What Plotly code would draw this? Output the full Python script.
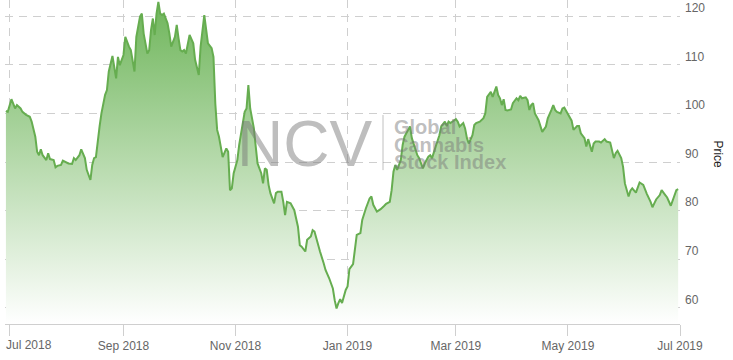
import plotly.graph_objects as go

# Global Cannabis Stock Index (NCV) - price
dates = [
    "2018-06-29", "2018-06-30", "2018-07-02", "2018-07-04", "2018-07-05", "2018-07-07", "2018-07-08",
    "2018-07-10", "2018-07-12", "2018-07-13", "2018-07-15", "2018-07-16", "2018-07-17", "2018-07-18",
    "2018-07-19", "2018-07-21", "2018-07-22", "2018-07-23", "2018-07-25", "2018-07-26", "2018-07-27",
    "2018-07-29", "2018-07-30", "2018-08-01", "2018-08-02", "2018-08-04", "2018-08-05", "2018-08-06",
    "2018-08-08", "2018-08-09", "2018-08-11", "2018-08-12", "2018-08-14", "2018-08-15", "2018-08-16",
    "2018-08-17", "2018-08-18", "2018-08-19", "2018-08-20", "2018-08-22", "2018-08-23", "2018-08-24",
    "2018-08-26", "2018-08-28", "2018-08-29", "2018-08-30", "2018-09-01", "2018-09-02", "2018-09-04",
    "2018-09-05", "2018-09-07", "2018-09-08", "2018-09-10", "2018-09-11", "2018-09-12", "2018-09-14",
    "2018-09-15", "2018-09-16", "2018-09-17", "2018-09-18", "2018-09-19", "2018-09-20", "2018-09-21",
    "2018-09-22", "2018-09-23", "2018-09-25", "2018-09-26", "2018-09-27", "2018-09-29", "2018-09-30",
    "2018-10-01", "2018-10-02", "2018-10-03", "2018-10-04", "2018-10-05", "2018-10-06", "2018-10-07",
    "2018-10-09", "2018-10-10", "2018-10-12", "2018-10-13", "2018-10-15", "2018-10-16", "2018-10-17",
    "2018-10-19", "2018-10-20", "2018-10-21", "2018-10-22", "2018-10-23", "2018-10-25", "2018-10-27",
    "2018-10-28", "2018-10-29", "2018-10-30", "2018-10-31", "2018-11-02", "2018-11-03", "2018-11-05",
    "2018-11-06", "2018-11-07", "2018-11-08", "2018-11-09", "2018-11-11", "2018-11-12", "2018-11-13",
    "2018-11-15", "2018-11-16", "2018-11-17", "2018-11-18", "2018-11-19", "2018-11-20", "2018-11-22",
    "2018-11-23", "2018-11-24", "2018-11-26", "2018-11-27", "2018-11-28", "2018-11-29", "2018-12-01",
    "2018-12-03", "2018-12-05", "2018-12-06", "2018-12-07", "2018-12-09", "2018-12-10", "2018-12-12",
    "2018-12-13", "2018-12-14", "2018-12-16", "2018-12-17", "2018-12-19", "2018-12-20", "2018-12-22",
    "2018-12-24", "2018-12-25", "2018-12-26", "2018-12-27", "2018-12-28", "2018-12-29", "2018-12-31",
    "2019-01-01", "2019-01-02", "2019-01-04", "2019-01-05", "2019-01-06", "2019-01-08", "2019-01-09",
    "2019-01-11", "2019-01-13", "2019-01-14", "2019-01-15", "2019-01-17", "2019-01-19", "2019-01-21",
    "2019-01-22", "2019-01-24", "2019-01-25", "2019-01-26", "2019-01-27", "2019-01-28", "2019-01-30",
    "2019-01-31", "2019-02-01", "2019-02-03", "2019-02-04", "2019-02-05", "2019-02-07", "2019-02-08",
    "2019-02-09", "2019-02-11", "2019-02-12", "2019-02-14", "2019-02-15", "2019-02-16", "2019-02-18",
    "2019-02-20", "2019-02-21", "2019-02-23", "2019-02-24", "2019-02-25", "2019-02-26", "2019-02-28",
    "2019-03-01", "2019-03-02", "2019-03-03", "2019-03-05", "2019-03-06", "2019-03-07", "2019-03-08",
    "2019-03-10", "2019-03-11", "2019-03-12", "2019-03-14", "2019-03-16", "2019-03-17", "2019-03-18",
    "2019-03-20", "2019-03-21", "2019-03-22", "2019-03-23", "2019-03-24", "2019-03-25", "2019-03-26",
    "2019-03-27", "2019-03-28", "2019-03-29", "2019-03-31", "2019-04-01", "2019-04-03", "2019-04-04",
    "2019-04-05", "2019-04-06", "2019-04-08", "2019-04-09", "2019-04-10", "2019-04-11", "2019-04-12",
    "2019-04-13", "2019-04-15", "2019-04-16", "2019-04-17", "2019-04-19", "2019-04-20", "2019-04-22",
    "2019-04-23", "2019-04-24", "2019-04-25", "2019-04-27", "2019-04-28", "2019-04-29", "2019-04-30",
    "2019-05-02", "2019-05-03", "2019-05-04", "2019-05-06", "2019-05-07", "2019-05-08", "2019-05-10",
    "2019-05-11", "2019-05-12", "2019-05-14", "2019-05-15", "2019-05-16", "2019-05-18", "2019-05-19",
    "2019-05-21", "2019-05-22", "2019-05-24", "2019-05-26", "2019-05-27", "2019-05-28", "2019-05-30",
    "2019-05-31", "2019-06-01", "2019-06-03", "2019-06-04", "2019-06-05", "2019-06-07", "2019-06-08",
    "2019-06-09", "2019-06-11", "2019-06-12", "2019-06-13", "2019-06-15", "2019-06-16", "2019-06-17",
    "2019-06-18", "2019-06-20", "2019-06-21", "2019-06-23", "2019-06-24", "2019-06-26", "2019-06-27",
    "2019-06-28", "2019-06-29", "2019-06-30",
]
prices = [
    100.5, 100.3, 102.9, 101.0, 101.7, 101.0, 100.3,
    99.7, 99.3, 98.3, 95.2, 92.1, 91.4, 92.6,
    91.4, 90.4, 91.8, 90.6, 90.4, 88.9, 89.2,
    89.4, 90.3, 90.0, 89.7, 89.6, 90.8, 90.4,
    91.4, 92.6, 90.8, 88.4, 86.3, 89.4, 90.8,
    91.0, 94.5, 97.3, 100.0, 103.8, 104.8, 108.6,
    111.8, 107.2, 111.6, 109.9, 112.0, 115.7, 113.7,
    113.0, 108.6, 115.7, 119.9, 120.5, 116.4, 112.3,
    113.0, 117.1, 119.5, 116.1, 120.5, 122.9, 120.5,
    120.2, 120.5, 118.5, 116.4, 113.7, 115.7, 118.2,
    115.4, 113.0, 112.7, 113.0, 112.3, 114.4, 116.1,
    114.4, 111.0, 107.9, 113.7, 120.2, 117.1, 114.4,
    113.4, 111.6, 102.0, 96.6, 95.2, 91.0, 92.8,
    92.1, 84.2, 84.6, 87.7, 90.4, 93.5, 97.6,
    100.3, 101.0, 105.8, 101.0, 96.9, 93.2, 89.7,
    87.7, 85.6, 88.7, 88.4, 85.3, 83.6, 81.5,
    83.6, 83.9, 83.9, 81.8, 79.1, 81.8, 81.5,
    80.1, 76.7, 72.9, 72.6, 71.6, 74.0, 74.7,
    76.0, 75.7, 72.6, 71.6, 69.2, 67.8, 66.1,
    64.0, 61.6, 59.9, 61.0, 61.8, 61.0, 63.7,
    64.4, 68.0, 69.0, 71.8, 75.0, 75.4, 78.1,
    80.5, 82.5, 82.9, 81.2, 79.8, 80.3, 81.0,
    81.4, 81.8, 84.2, 88.0, 89.4, 88.4, 90.4,
    93.5, 95.2, 96.6, 97.3, 94.9, 92.5, 91.4,
    90.8, 88.7, 89.7, 91.1, 91.4, 90.8, 93.2,
    95.5, 97.3, 98.3, 97.4, 98.3, 98.0, 98.5,
    98.8, 98.3, 97.3, 98.0, 96.9, 94.9, 93.8,
    95.5, 97.6, 98.0, 98.3, 99.0, 100.0, 103.4,
    104.4, 103.4, 104.4, 105.5, 103.8, 103.1, 101.7,
    102.9, 100.7, 100.6, 100.8, 102.1, 103.1, 102.7,
    103.6, 103.1, 103.3, 102.7, 100.7, 101.7, 102.1,
    100.0, 98.6, 97.3, 96.2, 97.3, 99.0, 100.7,
    101.7, 100.7, 100.3, 100.0, 101.0, 101.2, 100.5,
    99.3, 98.5, 96.6, 97.4, 97.4, 95.9, 94.9,
    93.2, 94.7, 92.1, 93.8, 94.2, 94.2, 94.0,
    94.7, 94.2, 94.0, 90.8, 91.8, 92.3, 90.8,
    89.0, 85.6, 82.9, 84.1, 84.6, 83.7, 84.9,
    85.8, 85.3, 84.2, 83.4, 81.8, 80.7, 81.5,
    82.3, 83.2, 84.2, 83.2, 82.7, 81.0, 82.2,
    83.4, 84.2, 84.4,
]
x_tickvals = ["2018-07-01", "2018-09-01", "2018-11-01", "2019-01-01", "2019-03-01", "2019-05-01", "2019-07-01"]
x_ticktext = ["Jul 2018", "Sep 2018", "Nov 2018", "Jan 2019", "Mar 2019", "May 2019", "Jul 2019"]
y_ticks = [60, 70, 80, 90, 100, 110, 120]
x_range = ["2018-06-28 12:00", "2019-07-01"]
y_range = [56.7, 123.3]

FONT = "Liberation Sans, Arial, sans-serif"
GRID = "#cfcfcf"
LABEL = "#666"

fig = go.Figure()
fig.add_trace(go.Scatter(
    x=dates, y=prices, mode="lines",
    line=dict(color="#66ad50", width=2),
    fill="tozeroy",
    fillgradient=dict(type="vertical", start=y_range[0], stop=y_range[1],
                      colorscale=[[0, "rgb(255,255,255)"], [1, "rgb(110,181,90)"]]),
    hoverinfo="x+y", showlegend=False,
))

# watermark
wm = "rgba(120,120,120,0.48)"
fig.add_annotation(xref="paper", yref="paper", x=0.341, y=0.557, xanchor="left", yanchor="middle",
                   text="NCV", showarrow=False, font=dict(family=FONT, size=64, color=wm))
for txt, yy in [("Global", 0.607), ("Cannabis", 0.552), ("Stock Index", 0.499)]:
    fig.add_annotation(xref="paper", yref="paper", x=0.573, y=yy, xanchor="left", yanchor="middle",
                       text="<b>%s</b>" % txt, showarrow=False, font=dict(family=FONT, size=20, color=wm))
fig.add_shape(type="line", xref="paper", yref="paper", x0=0.560, x1=0.560, y0=0.475, y1=0.645,
              line=dict(color="rgba(150,150,150,0.6)", width=1))

# axis title (reads top to bottom)
fig.add_annotation(xref="paper", yref="paper", x=1.057, y=0.522, xanchor="center", yanchor="middle",
                   text="Price", textangle=90, showarrow=False,
                   font=dict(family=FONT, size=12, color="#222"))

# first x label is pushed inside the chart, as in the reference
fig.add_annotation(xref="paper", yref="paper", x=0.0, y=-0.0648, xanchor="left", yanchor="middle",
                   text=x_ticktext[0], showarrow=False, borderpad=0,
                   font=dict(family=FONT, size=12, color=LABEL))

fig.update_layout(
    width=733, height=360,
    margin=dict(l=5, r=53, t=0, b=36),
    paper_bgcolor="white", plot_bgcolor="white",
    font=dict(family=FONT, size=12, color=LABEL),
    xaxis=dict(type="date", range=x_range, tickvals=x_tickvals, ticktext=[""] + x_ticktext[1:],
               showgrid=True, gridcolor=GRID, griddash="8px,6px", gridwidth=1,
               ticks="outside", ticklen=11, tickcolor=GRID,
               showline=True, linecolor=GRID, linewidth=1, zeroline=False,
               tickfont=dict(family=FONT, size=12, color=LABEL)),
    yaxis=dict(side="right", range=y_range, tickvals=y_ticks,
               showgrid=True, gridcolor=GRID, griddash="8px,6px", gridwidth=1,
               ticks="", ticklabelposition="outside top", ticklabelstandoff=4,
               showline=False, zeroline=False,
               tickfont=dict(family=FONT, size=12, color=LABEL)),
)

fig.write_html("out.html")
